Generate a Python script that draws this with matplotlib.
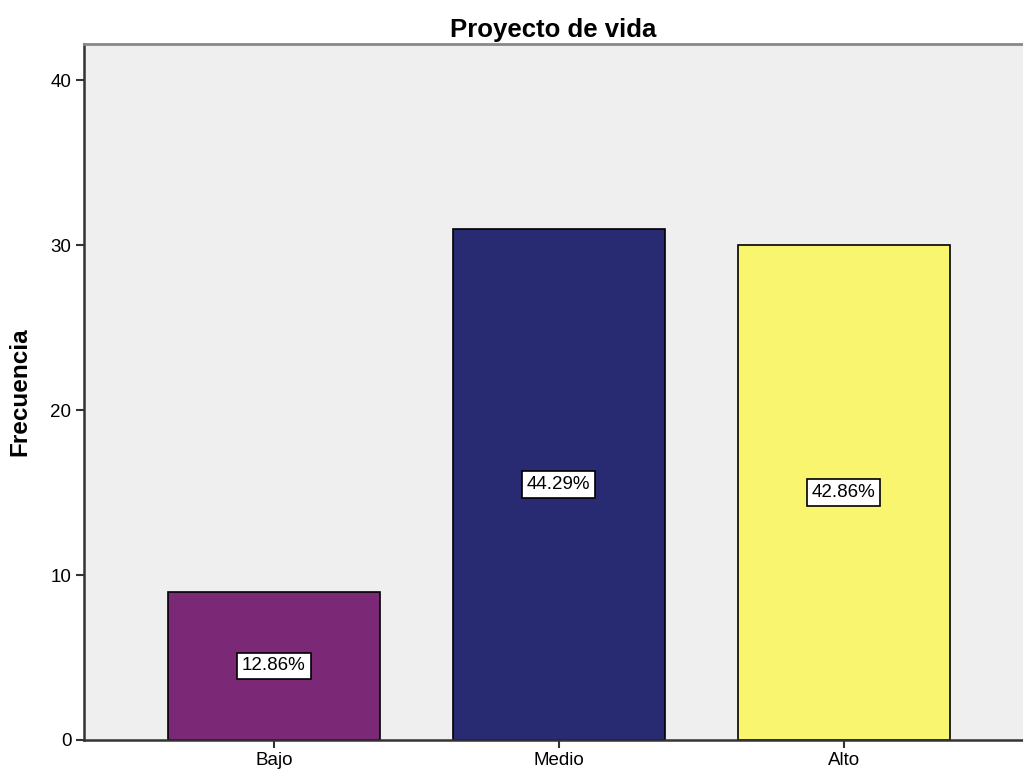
import matplotlib
matplotlib.use('Agg')
import matplotlib.pyplot as plt

plt.rcParams['font.family'] = ['Liberation Sans', 'DejaVu Sans']

# Data
categories = ['Bajo', 'Medio', 'Alto']
counts = [9, 31, 30]
percent_labels = ['12.86%', '44.29%', '42.86%']
colors = ['#7B2877', '#282A72', '#FAF56E']

fig = plt.figure(figsize=(10.23, 7.76), dpi=100)
ax = fig.add_axes([0.0821, 0.0464, 0.9179, 0.8969])
ax.set_facecolor('#EFEFEF')

x = list(range(len(categories)))
ax.bar(x, counts, width=0.744, color=colors, edgecolor='black', linewidth=1.2, zorder=2)

# Percent labels in the middle of each bar
for xi, c, lab in zip(x, counts, percent_labels):
    ax.text(xi, c / 2, lab, ha='center', va='center', fontsize=13.5,
            bbox=dict(boxstyle='square,pad=0.25', facecolor='white', edgecolor='black', linewidth=1.2),
            zorder=3)

ax.set_xlim(-0.667, 2.63)
ax.set_ylim(0, 42.2)
ax.set_xticks(x)
ax.set_xticklabels(categories)
ax.set_yticks([0, 10, 20, 30, 40])
ax.tick_params(axis='both', direction='out', length=6, width=1.5, colors='#333333',
               labelcolor='black', labelsize=13.5, pad=3)

ax.set_title('Proyecto de vida', fontsize=18.5, fontweight='bold', pad=5)
ax.set_ylabel('Frecuencia', fontsize=17.5, fontweight='bold', labelpad=14)

for side in ['left', 'bottom']:
    ax.spines[side].set_color('#333333')
    ax.spines[side].set_linewidth(1.8)
ax.spines['top'].set_color('#888888')
ax.spines['top'].set_linewidth(2)
ax.spines['right'].set_visible(False)

fig.savefig('out.png', dpi=100)
